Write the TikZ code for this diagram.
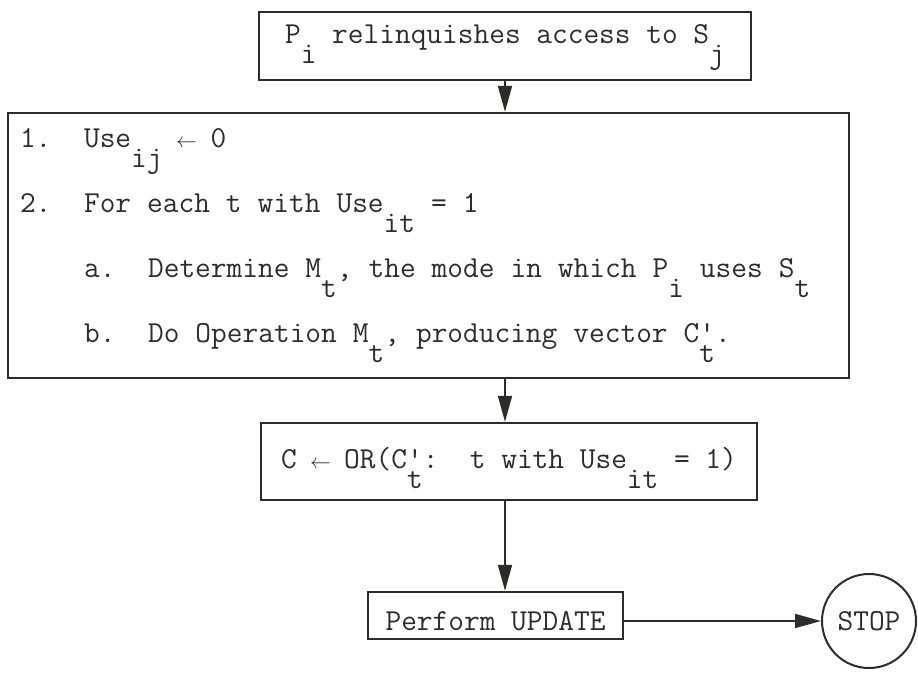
\documentclass[tikz,border=0pt]{standalone}
\usepackage{tikz}
\usetikzlibrary{arrows.meta}
\definecolor{ink}{RGB}{45,45,40}
\newcommand{\lo}[1]{\raisebox{-20pt}{#1}}
\newcommand{\pr}{\rlap{\textquotesingle}}
\newcommand{\la}{\makebox[0.525em]{\fontsize{20}{20}\selectfont$\leftarrow$}}
\newcommand{\fixsp}{\fontdimen3\font=0pt\fontdimen4\font=0pt\spaceskip=0.525em\xspaceskip=0.525em\relax}

\begin{document}
\begin{tikzpicture}[x=1pt,y=-1pt,ink,line width=1.8pt,
  box/.style={draw,line width=2.4pt,inner sep=0pt,font=\fontsize{30.5}{36}\ttfamily},
  flow/.style={-{Triangle[length=26pt,width=14pt]}}]
\useasboundingbox (0,0) rectangle (918,673);
\node[box,minimum width=492pt,text height=31pt,text depth=37pt] (relq) at (505,46) {P\lo{i} relinquishes access to S\lo{j}};
\node[box,text width=817pt,inner xsep=12pt,minimum height=265pt,align=left,font=\fontsize{30.5}{65}\ttfamily] (steps) at (428.5,245.5)
  {\fixsp\makebox[2.1em][l]{1.}Use\lo{ij} \la{} 0\\
   \makebox[2.1em][l]{2.}For each t with Use\lo{it} = 1\\
   \hspace*{2.1em}\makebox[2.1em][l]{a.}Determine M\lo{t}, the mode in which P\lo{i} uses S\lo{t}\\
   \hspace*{2.1em}\makebox[2.1em][l]{b.}Do Operation M\lo{t}, producing vector C\pr\lo{t}.};
\node[box,minimum width=496pt,text height=45pt,text depth=32pt] (orall) at (509,461.5) {C \la{} OR(C\pr\lo{t}:\ \ t with Use\lo{it} = 1)};
\node[box,minimum width=255pt,text height=38pt,text depth=9pt] (update) at (495.5,615.5) {Perform UPDATE};
\node[draw,circle,line width=2pt,minimum size=94pt,inner sep=0pt,font=\fontsize{30.5}{36}\ttfamily] (stop) at (869,621) {STOP};
\draw[flow] (relq) -- (steps.north -| relq);
\draw[flow] (steps.south -| relq) -- (orall.north -| relq);
\draw[flow] (orall.south -| relq) -- (update.north -| relq);
\draw[flow] (update.east |- stop) -- (stop);
\end{tikzpicture}
\end{document}
